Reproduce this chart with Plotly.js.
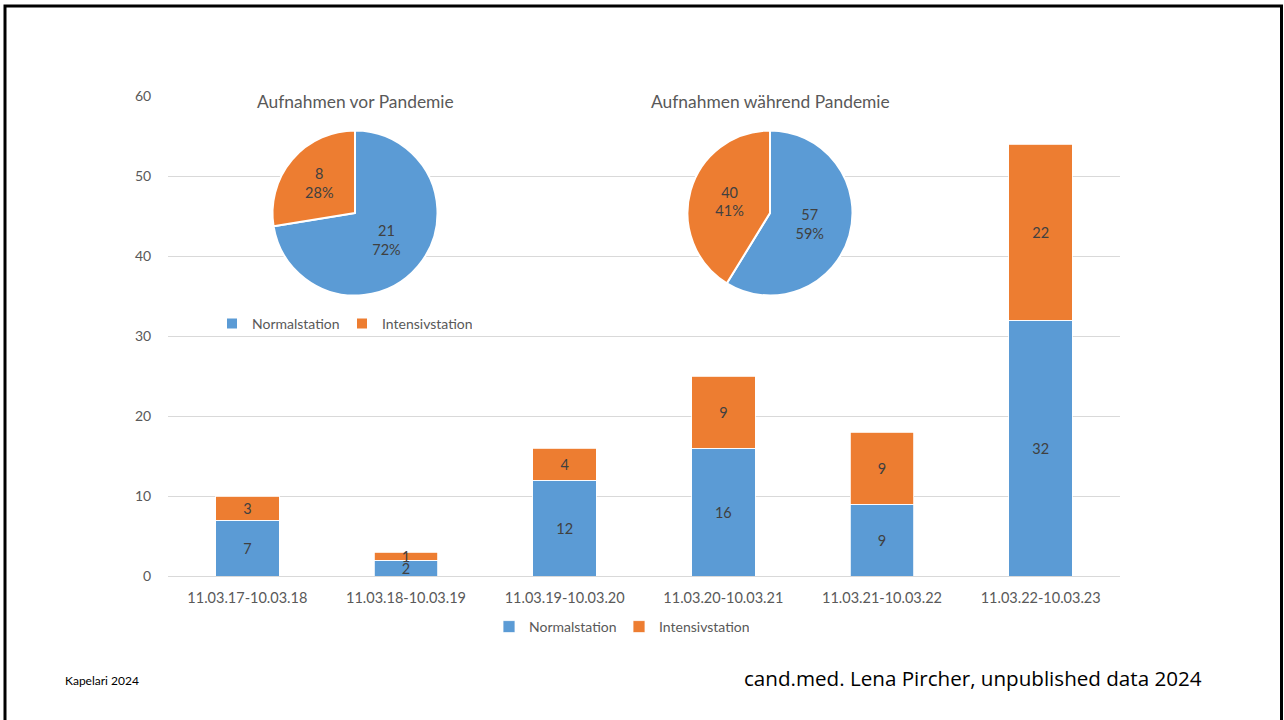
<!DOCTYPE html>
<html>
<head>
<meta charset="utf-8">
<script src="https://cdn.plot.ly/plotly-3.0.1.min.js"></script>
<style>
  html, body { margin: 0; padding: 0; background: #ffffff; }
  #chart { width: 1284px; height: 720px; }
</style>
</head>
<body>
<div id="chart"></div>
<script>
// ---- data ----
const periods = ["11.03.17-10.03.18", "11.03.18-10.03.19", "11.03.19-10.03.20",
                 "11.03.20-10.03.21", "11.03.21-10.03.22", "11.03.22-10.03.23"];
const normalstation = [7, 2, 12, 16, 9, 32];
const intensivstation = [3, 1, 4, 9, 9, 22];

const pieLabels = ["Normalstation", "Intensivstation"];
const pieVorValues = [21, 8];
const pieWaehrendValues = [57, 40];

const pieVorTitle = "Aufnahmen vor Pandemie";
const pieWaehrendTitle = "Aufnahmen während Pandemie";
const footerLeft = "Kapelari 2024";
const footerRight = "cand.med. Lena Pircher, unpublished data 2024";

// ---- styling ----
const BLUE = "#5B9BD5";
const ORANGE = "#ED7D31";
const TXT = "#595959";
const LBL = "#404040";
const FONT = "Lato, 'Open Sans', sans-serif";

const W = 1284, H = 720;
const M = { l: 168, r: 164, t: 96, b: 144 };
const PW = W - M.l - M.r, PH = H - M.t - M.b;
const px = x => (x - M.l) / PW;          // pixel x -> paper x
const py = y => (H - M.b - y) / PH;      // pixel y -> paper y

const barCommon = {
  type: "bar", textposition: "inside", insidetextanchor: "middle", textangle: 0,
  constraintext: "none", textfont: { color: LBL, size: 14.5, family: FONT },
  hoverinfo: "x+y+name", legend: "legend"
};

const traces = [
  Object.assign({}, barCommon, {
    name: "Normalstation", x: periods, y: normalstation,
    marker: { color: BLUE, line: { color: "#ffffff", width: 0.8 } },
    text: normalstation.map(String)
  }),
  Object.assign({}, barCommon, {
    name: "Intensivstation", x: periods, y: intensivstation,
    marker: { color: ORANGE, line: { color: "#ffffff", width: 0.8 } },
    text: intensivstation.map(String)
  }),
  {
    type: "pie", labels: pieLabels, values: pieVorValues, sort: false,
    direction: "clockwise", rotation: 0,
    marker: { colors: [BLUE, ORANGE], line: { color: "#ffffff", width: 2 } },
    texttemplate: "%{value}<br>%{percent:.0%}", textposition: "inside",
    insidetextorientation: "horizontal",
    textfont: { color: LBL, size: 14.5, family: FONT },
    domain: { x: [px(272.5), px(437.5)], y: [py(295.5), py(130.5)] },
    legend: "legend2"
  },
  {
    type: "pie", labels: pieLabels, values: pieWaehrendValues, sort: false,
    direction: "clockwise", rotation: 0,
    marker: { colors: [BLUE, ORANGE], line: { color: "#ffffff", width: 2 } },
    texttemplate: "%{value}<br>%{percent:.0%}", textposition: "inside",
    insidetextorientation: "horizontal",
    textfont: { color: LBL, size: 14.5, family: FONT },
    domain: { x: [px(687.5), px(852.5)], y: [py(295.5), py(130.5)] },
    legend: "legend3"
  }
];

const legendBase = {
  orientation: "h", bgcolor: "rgba(0,0,0,0)", borderwidth: 0,
  font: { color: TXT, size: 14, family: FONT },
  xanchor: "left", yanchor: "middle", traceorder: "normal",
  entrywidth: 85, entrywidthmode: "pixels"
};

const layout = {
  width: W, height: H,
  margin: M,
  paper_bgcolor: "#ffffff", plot_bgcolor: "#ffffff",
  font: { family: FONT, color: TXT },
  barmode: "stack",
  bargap: 0.6,
  showlegend: true,
  xaxis: {
    type: "category",
    tickfont: { size: 14.5, color: TXT, family: FONT },
    showgrid: false, showline: false, zeroline: false,
    ticks: "outside", ticklen: 9, tickcolor: "rgba(0,0,0,0)",
    fixedrange: true
  },
  yaxis: {
    range: [0, 60], dtick: 10, tick0: 0,
    tickfont: { size: 14, color: TXT, family: FONT },
    showgrid: true, gridcolor: "#D9D9D9", gridwidth: 1,
    zeroline: true, zerolinecolor: "#D9D9D9", zerolinewidth: 1,
    showline: false,
    ticks: "outside", ticklen: 13, tickcolor: "rgba(0,0,0,0)",
    fixedrange: true
  },
  legend: Object.assign({}, legendBase, { x: px(489), y: py(627) }),
  legend2: Object.assign({}, legendBase, { x: px(212), y: py(324) }),
  legend3: Object.assign({}, legendBase, { x: px(625), y: py(324) }),
  annotations: [
    { text: pieVorTitle, xref: "paper", yref: "paper", x: px(355), y: py(102),
      xanchor: "center", yanchor: "middle", showarrow: false,
      font: { size: 17.4, color: TXT, family: FONT } },
    { text: pieWaehrendTitle, xref: "paper", yref: "paper", x: px(770), y: py(102),
      xanchor: "center", yanchor: "middle", showarrow: false,
      font: { size: 17.4, color: TXT, family: FONT } },
    { text: footerLeft, xref: "paper", yref: "paper", x: px(63), y: py(680),
      xanchor: "left", yanchor: "middle", showarrow: false,
      font: { size: 12, color: "#000000", family: FONT } },
    { text: footerRight, xref: "paper", yref: "paper", x: px(742), y: py(678),
      xanchor: "left", yanchor: "middle", showarrow: false,
      font: { size: 20.6, color: "#000000", family: "'Open Sans', 'Noto Sans', sans-serif" } }
  ],
  shapes: [
    { type: "rect", xref: "paper", yref: "paper",
      x0: px(5), x1: px(1281.5), y0: py(730), y1: py(6),
      line: { color: "#000000", width: 3 }, fillcolor: "rgba(0,0,0,0)", layer: "above" }
  ]
};

Plotly.newPlot("chart", traces, layout, { displayModeBar: false, staticPlot: true });
</script>
</body>
</html>
